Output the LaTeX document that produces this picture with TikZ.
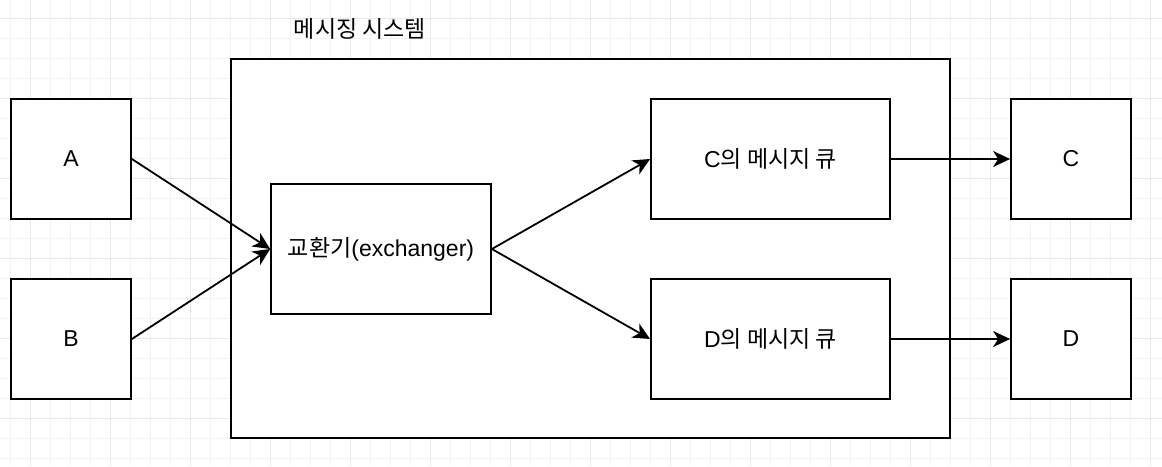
\documentclass[tikz,border=0pt]{standalone}
\usepackage{fontspec}
\setmainfont{Liberation Sans}
\newfontfamily\cjk{Noto Sans CJK KR}
\usetikzlibrary{arrows.meta}
\begin{document}
\begin{tikzpicture}[x=1pt,y=-1pt,
  minorgrid/.style={draw=black!5,line width=1pt},
  majorgrid/.style={draw=black!9,line width=1pt},
  box/.style={draw=black,fill=white,line width=1.8pt,rectangle,inner sep=0pt,
    font=\fontsize{23}{27}\selectfont},
  conn/.style={line width=1.8pt,-{Stealth[length=17pt,width=16pt,inset=5pt]}},
  lbl/.style={font=\fontsize{23}{27}\selectfont\cjk,inner sep=0pt}]
\useasboundingbox (0,0) rectangle (1162,466);
\fill[white] (0,0) rectangle (1162,466);
\foreach \x in {10,30,...,1160} \draw[minorgrid] (\x,0) -- (\x,466);
\foreach \y in {18,38,...,466} \draw[minorgrid] (0,\y) -- (1162,\y);
\foreach \x in {30,110,...,1160} \draw[majorgrid] (\x,0) -- (\x,466);
\foreach \y in {18,98,...,466} \draw[majorgrid] (0,\y) -- (1162,\y);

\node[box,minimum width=719pt,minimum height=379pt] (sys) at (590.5,248.5) {};
\node[lbl] (title) at (360,29) {메시징 시스템};

\node[box,minimum width=120pt,minimum height=120pt] (a) at (71,159) {A};
\node[box,minimum width=120pt,minimum height=120pt] (b) at (71,339) {B};
\node[box,minimum width=220pt,minimum height=130pt] (ex) at (381,249) {{\cjk 교환기}(exchanger)};
\node[box,minimum width=239pt,minimum height=120pt] (qc) at (770.5,159) {C{\cjk 의 메시지 큐}};
\node[box,minimum width=239pt,minimum height=120pt] (qd) at (770.5,339) {D{\cjk 의 메시지 큐}};
\node[box,minimum width=120pt,minimum height=120pt] (c) at (1071,159) {C};
\node[box,minimum width=120pt,minimum height=120pt] (d) at (1071,339) {D};

\draw[conn] (a.east) -- (ex.west);
\draw[conn] (b.east) -- (ex.west);
\draw[conn] (ex.east) -- (qc.west);
\draw[conn] (ex.east) -- (qd.west);
\draw[conn] (qc.east) -- (c.west);
\draw[conn] (qd.east) -- (d.west);
\end{tikzpicture}
\end{document}
